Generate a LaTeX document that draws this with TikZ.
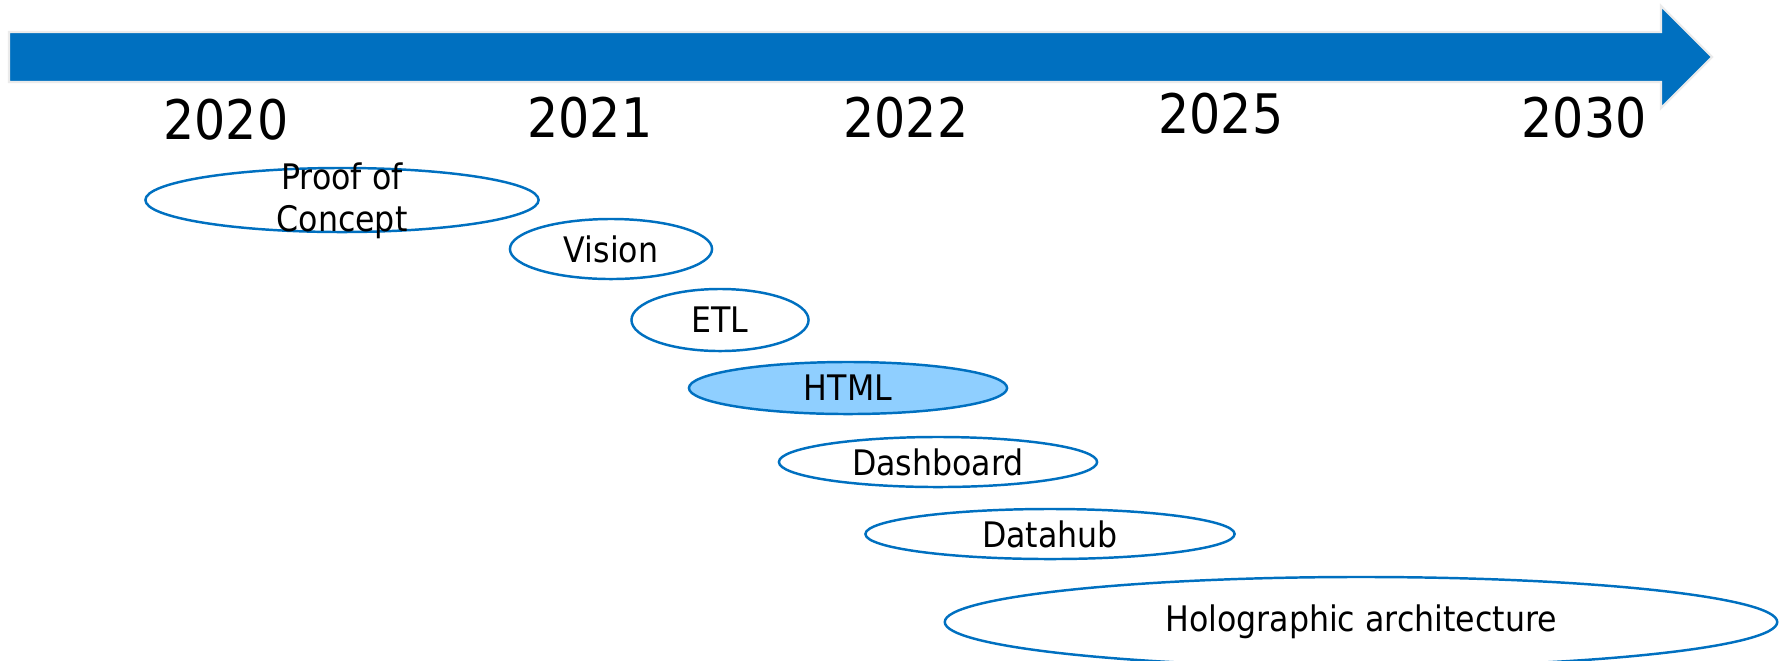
\documentclass[tikz,border=0pt]{standalone}
\usepackage{fontspec}
\setmainfont{DejaVu Sans Condensed}
\usepackage{tikz}
\usetikzlibrary{shapes.geometric}

\definecolor{tlblue}{HTML}{0070C0}
\definecolor{hlblue}{HTML}{8FCFFF}

\tikzset{
	year/.style={font=\fontsize{15.5}{18}\selectfont, inner sep=0pt},
	stage/.style={ellipse, draw=tlblue, line width=0.7pt, inner sep=0pt},
	stagetext/.style={font=\fontsize{10}{12}\selectfont, align=center, inner sep=0pt}
}

\begin{document}
\begin{tikzpicture}[x=0.01cm,y=-0.01cm]
	\useasboundingbox (0,0) rectangle (1789,660);
	\clip (0,0) rectangle (1789,660);

	% time arrow
	\filldraw [tlblue, draw=black!8, line width=0.6pt] (9,32) -- (1661,32) -- (1661,6) -- (1712,57)
		-- (1661,108) -- (1661,82) -- (9,82) -- cycle;

	% years
	\node[year] (y2020) at (226,120) {2020};
	\node[year] (y2021) at (590,118) {2021};
	\node[year] (y2022) at (906,118) {2022};
	\node[year] (y2025) at (1221,114) {2025};
	\node[year] (y2030) at (1584,118) {2030};

	% stages
	\node[stage, minimum width=3.93cm, minimum height=0.64cm] (poc) at (342,200) {};
	\node[stagetext] (poct) at (342,201) {Proof of\\[0pt]Concept};
	\node[stage, minimum width=2.02cm, minimum height=0.60cm] (vision) at (611,249) {};
	\node[stagetext] (visiont) at (vision) {Vision};
	\node[stage, minimum width=1.77cm, minimum height=0.62cm] (etl) at (720,320) {};
	\node[stagetext] (etlt) at (etl) {ETL};
	\node[stage, fill=hlblue, minimum width=3.18cm, minimum height=0.52cm] (html) at (848,388) {};
	\node[stagetext] (htmlt) at (html) {HTML};
	\node[stage, minimum width=3.18cm, minimum height=0.50cm] (dash) at (938,462) {};
	\node[stagetext] (dasht) at (dash) {Dashboard};
	\node[stage, minimum width=3.69cm, minimum height=0.50cm] (hub) at (1050,534) {};
	\node[stagetext] (hubt) at (hub) {Datahub};
	\node[stage, minimum width=8.32cm, minimum height=0.90cm] (holo) at (1361,622) {};
	\node[stagetext] (holot) at (holo) {Holographic architecture};
\end{tikzpicture}
\end{document}
